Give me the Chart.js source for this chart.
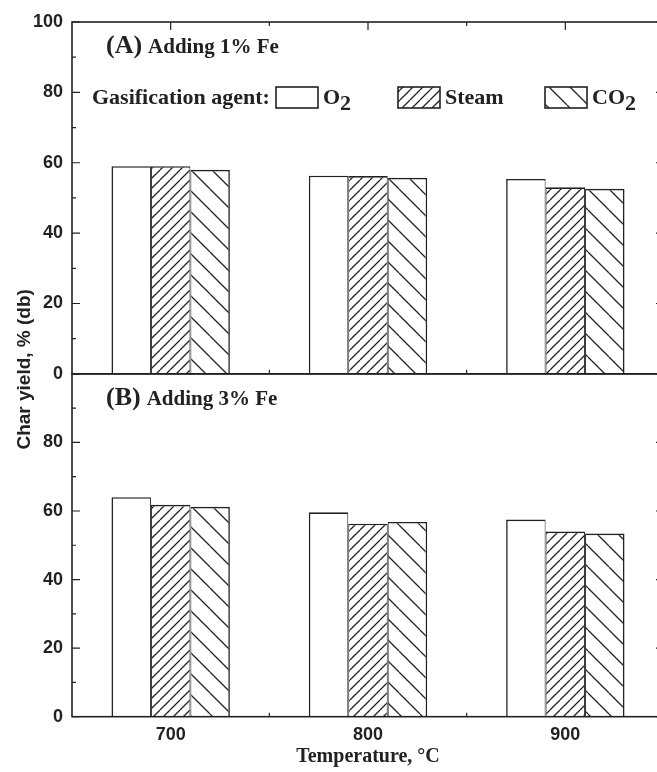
<!DOCTYPE html>
<html>
<head>
<meta charset="utf-8">
<script src="https://cdn.jsdelivr.net/npm/chart.js@4.4.1/dist/chart.umd.min.js"></script>
<style>
html, body { margin:0; padding:0; background:#fff; overflow:hidden; }
canvas { display:block; }
</style>
</head>
<body>
<canvas id="chart" width="680" height="772"></canvas>
<script>
// categories and values
const temps = ['700', '800', '900'];
const agents = ['O2', 'Steam', 'CO2'];
// (A) adding 1% Fe
const o2A = [59.0, 56.3, 55.4];
const steamA = [59.0, 56.2, 53.0];
const co2A = [58.0, 55.7, 52.6];
// (B) adding 3% Fe
const o2B = [64.0, 59.6, 57.5];
const steamB = [61.8, 56.3, 54.0];
const co2B = [61.2, 56.8, 53.4];
const yTicks = [0, 20, 40, 60, 80, 100];
const panelTitles = [['(A)', 'Adding 1% Fe'], ['(B)', 'Adding 3% Fe']];

const ink = '#222';
const serif = 'Liberation Serif, Times New Roman, serif';
const sans = 'Liberation Sans, Arial, sans-serif';

const canvas = document.getElementById('chart');
const ctx = canvas.getContext('2d');

// hatch tiles
function hatch(size, dir) {
  const c = document.createElement('canvas');
  c.width = c.height = size;
  const g = c.getContext('2d');
  g.fillStyle = '#fff'; g.fillRect(0, 0, size, size);
  g.strokeStyle = ink; g.lineWidth = 1.3;
  g.beginPath();
  for (const k of [-size, 0, size]) {
    if (dir === '/') { g.moveTo(k, size); g.lineTo(k + size, 0); }
    else { g.moveTo(k, 0); g.lineTo(k + size, size); }
  }
  g.stroke();
  return ctx.createPattern(c, 'repeat');
}
const fills = ['#fff', hatch(10, '/'), hatch(21, '\\')];
const borders = [
  {top: 1.6, left: 1.6, right: 1, bottom: 0},
  {top: 1.6, left: 1, right: 1, bottom: 0},
  {top: 1.6, left: 1, right: 1.6, bottom: 0}
];

function ds(label, data, i, axis) {
  return {
    label: label, data: data, yAxisID: axis, stack: agents[i],
    backgroundColor: fills[i], borderColor: ink, borderWidth: borders[i],
    borderSkipped: 'start', categoryPercentage: 0.6, barPercentage: 1.0
  };
}

// draws "O2" style text with the trailing 2 lowered
function chem(c, txt, x, y) {
  if (txt.endsWith('2')) {
    const head = txt.slice(0, -1);
    c.fillText(head, x, y);
    c.fillText('2', x + c.measureText(head).width, y + 6);
  } else c.fillText(txt, x, y);
}

const decor = {
  id: 'decor',
  beforeDatasetsDraw(chart) {
    const {ctx: c, chartArea: a, scales} = chart;
    const x = scales.x;
    c.save();
    c.strokeStyle = ink; c.lineWidth = 1.2;
    c.beginPath();
    [scales.yTop, scales.yBot].forEach(s => {
      yTicks.forEach((v, i) => {
        const p = s.getPixelForValue(v);
        c.moveTo(a.left, p); c.lineTo(a.left + 8, p);
        c.moveTo(a.right, p); c.lineTo(a.right - 8, p);
        if (i > 0) {
          const m = s.getPixelForValue((v + yTicks[i - 1]) / 2);
          c.moveTo(a.left, m); c.lineTo(a.left + 4, m);
          c.moveTo(a.right, m); c.lineTo(a.right - 4, m);
        }
      });
    });
    const half = (x.getPixelForValue(1) - x.getPixelForValue(0)) / 2;
    const lines = [scales.yTop.top, scales.yTop.bottom, scales.yBot.bottom];
    temps.forEach((t, i) => {
      const p = x.getPixelForValue(i);
      c.moveTo(p, a.top); c.lineTo(p, a.top + 8);
      c.moveTo(p, a.bottom); c.lineTo(p, a.bottom - 8);
      if (i > 0) lines.forEach((ly, j) => {
        const d = j === 0 ? 4 : -4;
        c.moveTo(p - half, ly); c.lineTo(p - half, ly + d);
      });
    });
    c.stroke();
    c.restore();
  },
  afterDatasetsDraw(chart) {
    const {ctx: c, chartArea: a, scales} = chart;
    c.save();
    c.strokeStyle = ink; c.lineWidth = 1.6;
    [scales.yTop, scales.yBot].forEach(s => {
      c.strokeRect(a.left, s.top, a.right - a.left, s.bottom - s.top);
    });
    c.fillStyle = ink;
    c.textBaseline = 'alphabetic';
    // panel titles
    [scales.yTop, scales.yBot].forEach((s, i) => {
      const base = s.top + 31;
      c.font = 'bold 26px ' + serif;
      c.fillText(panelTitles[i][0], a.left + 34, base);
      const w = c.measureText(panelTitles[i][0]).width;
      c.font = 'bold 21px ' + serif;
      c.fillText(panelTitles[i][1], a.left + 34 + w + 6, base);
    });
    // legend
    c.font = 'bold 22px ' + serif;
    c.fillText('Gasification agent:', 92, 104);
    const boxX = [276, 398, 545];
    agents.forEach((g, i) => {
      c.fillStyle = fills[i];
      c.fillRect(boxX[i], 87, 42, 21);
      c.lineWidth = 1.6;
      c.strokeRect(boxX[i], 87, 42, 21);
      c.fillStyle = ink;
      chem(c, g, boxX[i] + 47, 104);
    });
    // y axis title
    c.translate(30, (a.top + a.bottom) / 2);
    c.rotate(-Math.PI / 2);
    c.textAlign = 'center';
    c.font = 'bold 19px ' + sans;
    c.fillText('Char yield, % (db)', 0, 0);
    c.restore();
  }
};

const tickFont = { family: sans, weight: 'bold', size: 18 };
function yScale(weight, hideTop) {
  return {
    type: 'linear', position: 'left', stack: 'panels', stackWeight: weight,
    min: 0, max: 100, stacked: false,
    grid: { display: false, drawTicks: false }, border: { display: false },
    afterBuildTicks: s => { s.ticks = yTicks.map(v => ({ value: v })); },
    ticks: {
      color: ink, font: tickFont, padding: 9,
      callback: v => (hideTop && v === 100) ? '' : v
    },
    afterFit: s => { s.width = 72; }
  };
}

new Chart(ctx, {
  type: 'bar',
  data: {
    labels: temps,
    datasets: [
      ds('O2', o2A, 0, 'yTop'), ds('Steam', steamA, 1, 'yTop'), ds('CO2', co2A, 2, 'yTop'),
      ds('O2', o2B, 0, 'yBot'), ds('Steam', steamB, 1, 'yBot'), ds('CO2', co2B, 2, 'yBot')
    ]
  },
  options: {
    responsive: false,
    animation: false,
    layout: { padding: { left: 0, right: 16, top: 22, bottom: 0 } },
    plugins: { legend: { display: false }, tooltip: { enabled: false } },
    scales: {
      x: {
        type: 'category', offset: true,
        grid: { display: false, drawTicks: false }, border: { display: false },
        ticks: { color: ink, font: tickFont, padding: 8 },
        title: {
          display: true, text: 'Temperature, °C', color: ink,
          font: { family: serif, weight: 'bold', size: 20 }, padding: { top: 4, bottom: 3 }
        },
        afterFit: s => { s.height = 55.3; }
      },
      yBot: yScale(343, true),
      yTop: yScale(352, false)
    }
  },
  plugins: [decor]
});
</script>
</body>
</html>
